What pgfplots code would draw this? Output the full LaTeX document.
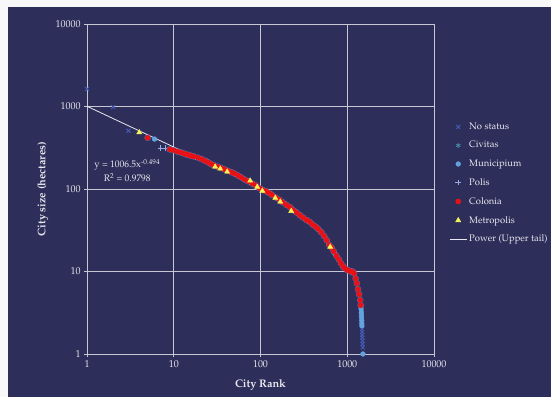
\documentclass[border=0pt]{standalone}
\usepackage[T1]{fontenc}
\usepackage{mathpazo}
\usepackage{pgfplots}
\usepackage{pgfplotstable}
\pgfplotsset{compat=1.18}
\definecolor{bgc}{RGB}{45,46,90}
\definecolor{edge}{RGB}{248,248,248}
\definecolor{txt}{RGB}{232,232,238}
\definecolor{gridc}{RGB}{200,200,210}
\definecolor{nostat}{RGB}{70,92,185}
\definecolor{civ}{RGB}{70,140,170}
\definecolor{muni}{RGB}{100,162,222}
\definecolor{polis}{RGB}{150,170,230}
\definecolor{colo}{RGB}{232,18,22}
\definecolor{halo}{RGB}{95,145,210}
\definecolor{metro}{RGB}{242,242,90}
\pgfplotstableread{
r s
5 418
9 302
10 295
11 285
12 278
13 270
14 262
15 258
16 252
17 248
19 240
21 230
23 220
25 210
27 200
29 194
32 186
35 180
38 174
42 166
46 160
50 154
55 146
60 138
66 130
72 124
80 117
88 111
96 103
105 98
115 94
125 90
135 85
150 79
165 74
180 69
200 64
220 60
240 55
260 52
285 48
310 45
340 42
370 40
400 37
430 35
460 33
500 30
540 27
580 24
620 21
660 19.5
700 17.5
750 15.5
800 14
850 12.5
900 11.4
950 10.8
1000 10.4
1050 10.2
1100 10
1150 10
1200 9.5
1250 8.2
1290 7.2
1330 6.1
1370 5.3
1410 4.5
1430 3.9
}\colonia
\begin{document}
\begin{tikzpicture}
\fill[edge] (0bp,0bp) rectangle (551bp,397bp);
\fill[bgc] (8bp,0bp) rectangle (551bp,390bp);
\begin{axis}[
  at={(87bp,43bp)}, anchor=south west,
  scale only axis, width=347bp, height=330bp,
  xmode=log, ymode=log,
  xmin=1, xmax=10000, ymin=1, ymax=10000,
  xtick={1,10,100,1000,10000}, xticklabels={1,10,100,1000,10000},
  ytick={1,10,100,1000,10000}, yticklabels={1,10,100,1000,10000},
  xminorticks=false, yminorticks=false,
  xtick pos=bottom, ytick pos=left,
  tick align=outside, major tick length=3bp,
  tick style={gridc, line width=0.8pt},
  grid=major, grid style={gridc, line width=0.8pt},
  axis line style={gridc, line width=0.8pt},
  ticklabel style={font=\normalsize, text=txt},
  xlabel={City Rank}, ylabel={City size (hectares)},
  label style={font=\fontsize{11}{13}\selectfont\bfseries, text=txt},
  xlabel style={at={(rel axis cs:0.5,-0.094)}, anchor=center},
  ylabel style={at={(rel axis cs:-0.127,0.5)}, anchor=center},
  legend style={at={(rel axis cs:1.035,0.713)}, anchor=north west, draw=none, fill=none,
    text=txt, font=\fontsize{9.5}{11}\selectfont, row sep=6.5bp},
  legend cell align=left,
]
% No status
\addplot[only marks, mark=x, mark size=2.8, nostat, line width=0.9pt] coordinates {
(1,1625) (2,980) (3,508) (20,238) (26,208) (40,172) (58,142) (70,128) (85,112)
(110,96) (130,89) (160,76) (190,67) (230,58) (280,49) (330,43) (390,38) (450,34)
(520,29) (600,22.5) (680,18.5) (780,14.6) (880,11.8) (1000,10.6) (1080,10.3) (1200,9.8)
(1480,2.0) (1486,1.85) (1490,1.7) (1494,1.58) (1498,1.45) (1502,1.32) (1506,1.2)
};
\addlegendentry{No status}
% Civitas
\addplot[only marks, mark=asterisk, mark size=2.5, civ, line width=0.7pt] coordinates {
(24,222) (62,136) (140,83) (300,46) (560,26) (820,13.5) (1440,3.6) (1455,3.2)
};
\addlegendentry{Civitas}
% Municipium
\addplot[only marks, mark=*, mark size=2.4, muni] coordinates {
(6,403) (45,163) (120,92) (250,54) (480,31.5) (720,16.5) (950,11) (1435,3.8) (1445,3.5)
(1452,3.2) (1458,2.95) (1463,2.75) (1468,2.55) (1472,2.35) (1476,2.2) (1515,1.0)
};
\addlegendentry{Municipium}
% Polis
\addplot[only marks, mark=+, mark size=2.8, polis, line width=0.8pt] coordinates {
(7,313) (8,312) (18,243) (36,178) (75,122) (155,77) (350,41) (650,20)
};
\addlegendentry{Polis}
% Colonia: soft bluish edge under the red marks, then the red marks
\addplot[forget plot, only marks, mark=*, mark size=3.1, halo, opacity=0.55] table[x=r, y=s] {\colonia};
\addplot[only marks, mark=*, mark size=2.6, colo] table[x=r, y=s] {\colonia};
\addlegendentry{Colonia}
% Metropolis
\addplot[only marks, mark=triangle*, mark size=3, metro] coordinates {
(4,485) (30,186) (34.4,176) (41.3,162) (76,126) (91.6,106) (105,95) (148,78) (169,70)
(226,54) (636,19.9)
};
\addlegendentry{Metropolis}
% Power trendline
\addplot[txt, line width=0.8pt, no marks] coordinates {(1,1006.5) (120,94.5)};
\addlegendentry{Power (Upper tail)}
\node[font=\fontsize{9.5}{11}\selectfont, text=txt] at (axis cs:2.91,197) {y = 1006.5x\textsuperscript{-0.494}};
\node[font=\fontsize{9.5}{11}\selectfont, text=txt] at (axis cs:2.91,137) {R\textsuperscript{2} = 0.9798};
\end{axis}
\pgfresetboundingbox
\useasboundingbox (0bp,0bp) rectangle (551bp,397bp);
\end{tikzpicture}
\end{document}
